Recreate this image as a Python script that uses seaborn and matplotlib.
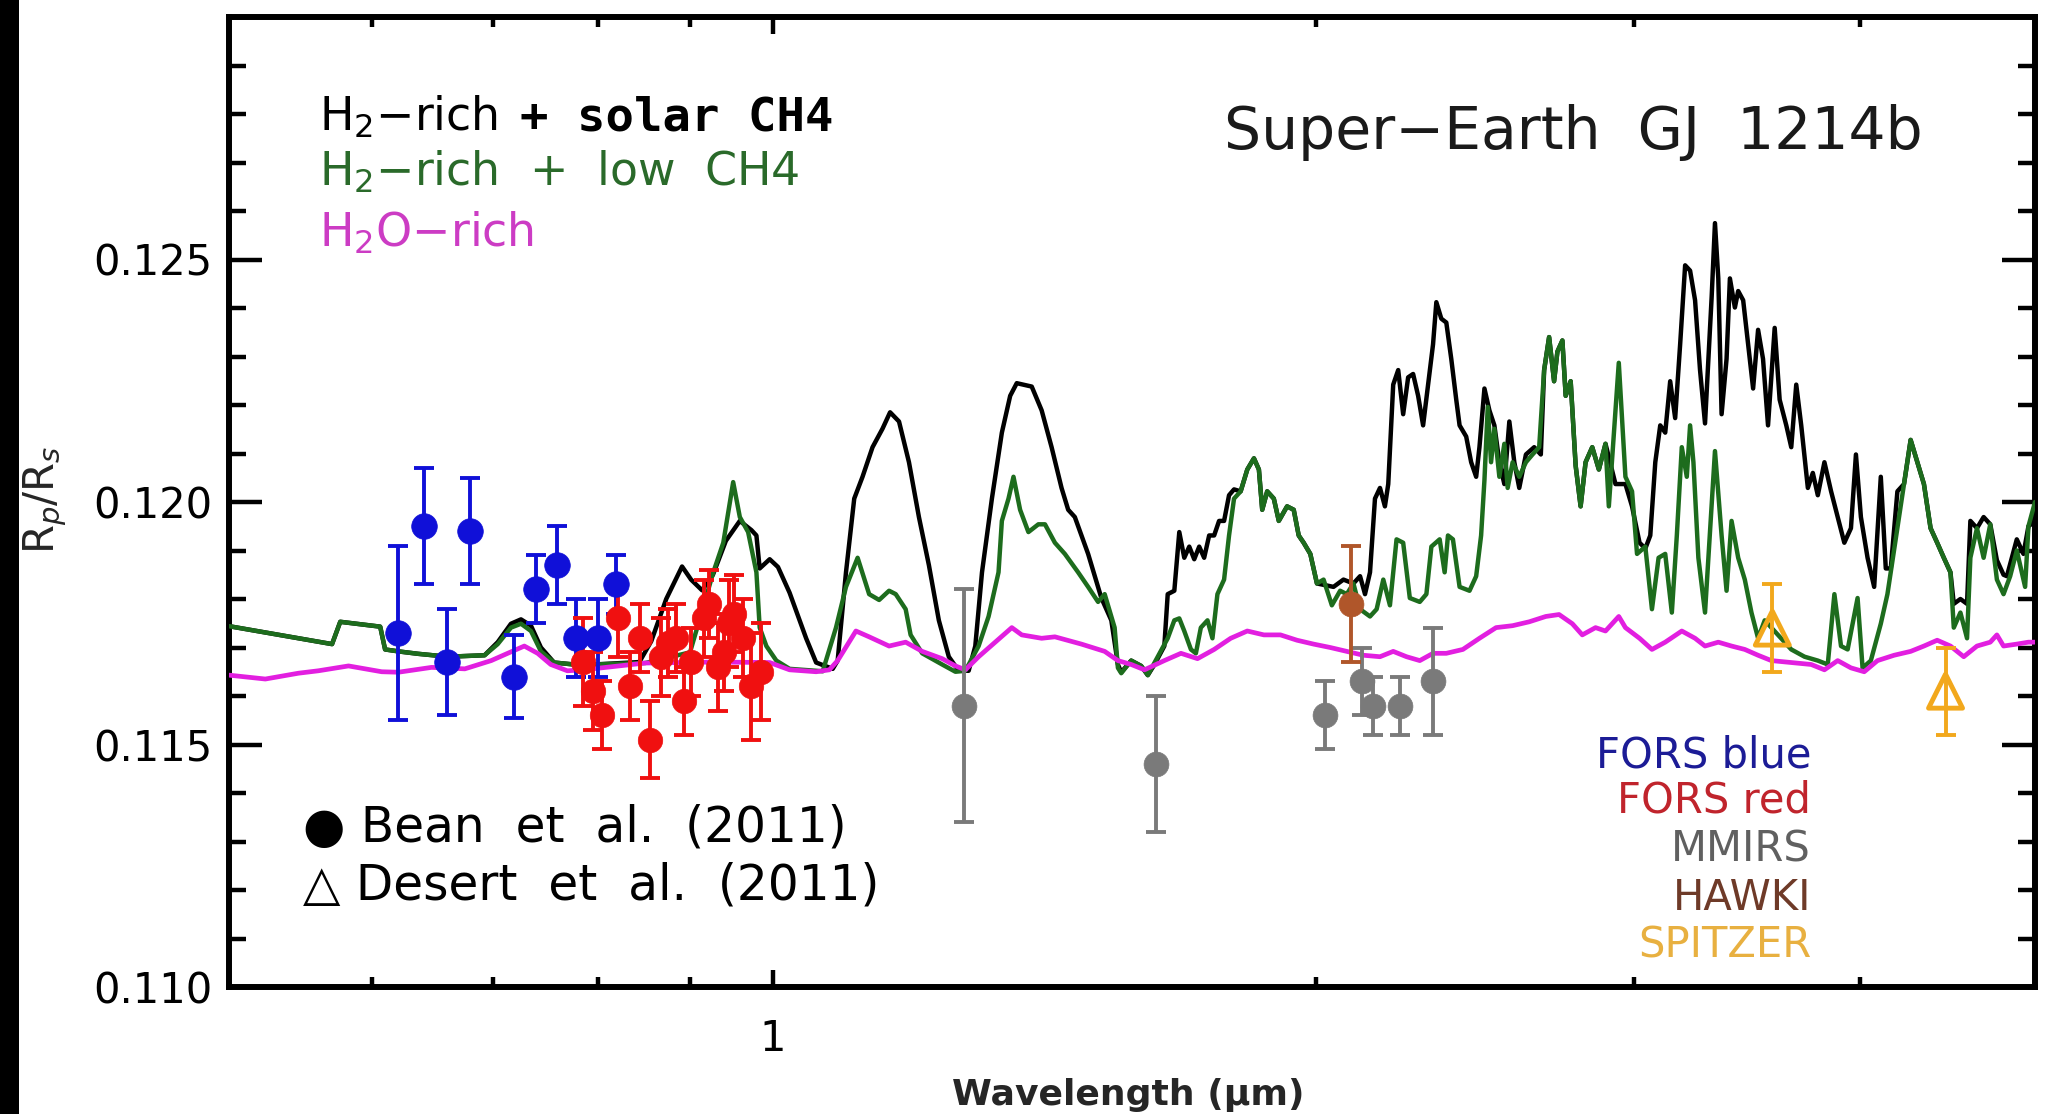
import matplotlib
matplotlib.use("Agg")
import matplotlib.pyplot as plt
import seaborn as sns
from matplotlib.ticker import FixedLocator, NullFormatter, FormatStrFormatter, MultipleLocator
from matplotlib.patches import Rectangle

# ---------------- model spectra (wavelength in micron, Rp/Rs) ----------------
wl_solar = [0.500, 0.5702, 0.5762, 0.6063, 0.6101, 0.6205, 0.6363, 0.6609, 0.6926, 0.7043,
            0.7163, 0.7255, 0.7348, 0.7442, 0.7568, 0.7760, 0.7964, 0.8437, 0.8566, 0.8731,
            0.8909, 0.9012, 0.9139, 0.9267, 0.9421, 0.9590, 0.9733, 0.9795, 0.9836, 0.9962,
            1.0068, 1.0218, 1.0436, 1.0570, 1.0796, 1.0864, 1.0980, 1.1096, 1.1214, 1.1358,
            1.1503, 1.1615, 1.1748, 1.1898, 1.2050, 1.2204, 1.2360, 1.2518, 1.2677, 1.2839,
            1.2948, 1.3059, 1.3225, 1.3394, 1.3537, 1.3651, 1.3914, 1.4091, 1.4271, 1.4453,
            1.4576, 1.4700, 1.4951, 1.5206, 1.5400, 1.5530, 1.5596, 1.5795, 1.5997, 1.6133,
            1.6272, 1.6477, 1.6548, 1.6688, 1.6794, 1.6901, 1.7009, 1.7117, 1.7226, 1.7335,
            1.7446, 1.7557, 1.7668, 1.7781, 1.7894, 1.8008, 1.8161, 1.8315, 1.8471, 1.8588,
            1.8667, 1.8786, 1.8945, 1.9066, 1.9268, 1.9432, 1.9556, 1.9680, 1.9847, 2.0016,
            2.0443, 2.0704, 2.0969, 2.1147, 2.1281, 2.1417, 2.1553, 2.1691, 2.1828, 2.1921,
            2.2060, 2.2201, 2.2342, 2.2484, 2.2627, 2.2772, 2.2917, 2.3062, 2.3209, 2.3307,
            2.3455, 2.3605, 2.3755, 2.3906, 2.4008, 2.4211, 2.4365, 2.4521, 2.4624, 2.4781,
            2.4938, 2.5097, 2.5257, 2.5418, 2.5580, 2.5743, 2.5906, 2.6127, 2.6404, 2.6628,
            2.6741, 2.6911, 2.7082, 2.7197, 2.7370, 2.7486, 2.7661, 2.7837, 2.8014, 2.8192,
            2.8432, 2.8673, 2.8917, 2.9287, 2.9661, 2.9912, 3.0200, 3.0423, 3.0616, 3.0812,
            3.1007, 3.1205, 3.1403, 3.1603, 3.1804, 3.2007, 3.2210, 3.2415, 3.2621, 3.2829,
            3.3108, 3.3248, 3.3389, 3.3530, 3.3743, 3.3887, 3.4103, 3.4247, 3.4465, 3.4684,
            3.4905, 3.5127, 3.5349, 3.5575, 3.5878, 3.6106, 3.6413, 3.6644, 3.6878, 3.7113,
            3.7428, 3.7666, 3.7906, 3.8227, 3.8553, 3.8880, 3.9209, 3.9542, 3.9794, 4.0047,
            4.0388, 4.0730, 4.1076, 4.1338, 4.1601, 4.1955, 4.2311, 4.2669, 4.3033, 4.3398,
            4.3767, 4.4138, 4.4513, 4.4891, 4.5082, 4.5464, 4.5850, 4.6045, 4.6435, 4.6830,
            4.7228, 4.7629, 4.8034, 4.8240, 4.8853, 4.9268, 4.9584, 5.000]
rp_solar = [0.11744, 0.11707, 0.11753, 0.11743, 0.11696, 0.11692, 0.11687, 0.11681, 0.11684, 0.11711,
            0.11749, 0.11758, 0.11745, 0.11700, 0.11669, 0.11665, 0.11665, 0.11670, 0.11713, 0.11800,
            0.11867, 0.11840, 0.11818, 0.11850, 0.11920, 0.11961, 0.11942, 0.11931, 0.11863, 0.11882,
            0.11866, 0.11813, 0.11719, 0.11669, 0.11656, 0.11673, 0.11855, 0.12007, 0.12052, 0.12113,
            0.12151, 0.12185, 0.12166, 0.12082, 0.11969, 0.11870, 0.11756, 0.11681, 0.11652, 0.11652,
            0.11703, 0.11855, 0.12007, 0.12143, 0.12219, 0.12245, 0.12238, 0.12189, 0.12113, 0.12029,
            0.11984, 0.11969, 0.11893, 0.11802, 0.11756, 0.11665, 0.11649, 0.11673, 0.11662, 0.11643,
            0.11665, 0.11703, 0.11810, 0.11817, 0.11938, 0.11885, 0.11908, 0.11882, 0.11908, 0.11885,
            0.11931, 0.11931, 0.11961, 0.11961, 0.12014, 0.12026, 0.12022, 0.12067, 0.12090, 0.12067,
            0.11984, 0.12022, 0.12007, 0.11961, 0.11991, 0.11984, 0.11931, 0.11916, 0.11893, 0.11832,
            0.11825, 0.11840, 0.11832, 0.11847, 0.11810, 0.11855, 0.12007, 0.12029, 0.11991, 0.12037,
            0.12242, 0.12272, 0.12181, 0.12257, 0.12264, 0.12219, 0.12158, 0.12242, 0.12325, 0.12412,
            0.12378, 0.12370, 0.12295, 0.12211, 0.12158, 0.12135, 0.12082, 0.12052, 0.12113, 0.12234,
            0.12189, 0.12158, 0.12082, 0.12037, 0.12166, 0.12082, 0.12029, 0.12098, 0.12113, 0.12098,
            0.12272, 0.12340, 0.12249, 0.12310, 0.12333, 0.12219, 0.12249, 0.12075, 0.11991, 0.12082,
            0.12113, 0.12067, 0.12120, 0.12037, 0.12037, 0.11991, 0.11916, 0.11904, 0.11931, 0.12082,
            0.12158, 0.12143, 0.12249, 0.12173, 0.12325, 0.12488, 0.12477, 0.12416, 0.12272, 0.12162,
            0.12423, 0.12575, 0.12461, 0.12181, 0.12295, 0.12461, 0.12401, 0.12435, 0.12416, 0.12325,
            0.12234, 0.12355, 0.12295, 0.12158, 0.12359, 0.12211, 0.12158, 0.12113, 0.12242, 0.12158,
            0.12029, 0.12060, 0.12014, 0.12082, 0.12022, 0.11969, 0.11916, 0.11946, 0.12098, 0.11969,
            0.11885, 0.11825, 0.12052, 0.11863, 0.11863, 0.12022, 0.12037, 0.12128, 0.12082, 0.12037,
            0.11946, 0.11916, 0.11885, 0.11855, 0.11790, 0.11800, 0.11790, 0.11961, 0.11946, 0.11969,
            0.11954, 0.11880, 0.11850, 0.11847, 0.11923, 0.11893, 0.11950, 0.11960]

wl_low = [0.500, 0.5702, 0.5762, 0.6063, 0.6101, 0.6205, 0.6363, 0.6609, 0.6926, 0.7043,
          0.7163, 0.7255, 0.7348, 0.7442, 0.7568, 0.7760, 0.7964, 0.8500, 0.9000, 0.9271,
          0.9390, 0.9509, 0.9590, 0.9692, 0.9795, 0.9836, 0.9920, 1.0047, 1.0218, 1.0659,
          1.0841, 1.0980, 1.1144, 1.1309, 1.1454, 1.1600, 1.1699, 1.1848, 1.1923, 1.2101,
          1.2412, 1.2624, 1.2785, 1.3003, 1.3169, 1.3337, 1.3394, 1.3508, 1.3594, 1.3709,
          1.3855, 1.4032, 1.4151, 1.4331, 1.4514, 1.4762, 1.4951, 1.5142, 1.5270, 1.5465,
          1.5530, 1.5596, 1.5795, 1.5997, 1.6133, 1.6339, 1.6548, 1.6688, 1.6794, 1.6901,
          1.7045, 1.7153, 1.7262, 1.7409, 1.7519, 1.7631, 1.7781, 1.7894, 1.8008, 1.8161,
          1.8315, 1.8471, 1.8588, 1.8667, 1.8786, 1.8945, 1.9066, 1.9268, 1.9432, 1.9556,
          1.9680, 1.9847, 2.0016, 2.0186, 2.0400, 2.0617, 2.0792, 2.0969, 2.1147, 2.1417,
          2.1599, 2.1783, 2.1968, 2.2154, 2.2342, 2.2532, 2.2820, 2.3013, 2.3160, 2.3406,
          2.3555, 2.3655, 2.3805, 2.4008, 2.4314, 2.4521, 2.4676, 2.4781, 2.4886, 2.4991,
          2.5097, 2.5257, 2.5418, 2.5526, 2.5688, 2.5906, 2.6127, 2.6348, 2.6572, 2.6741,
          2.6911, 2.7082, 2.7197, 2.7370, 2.7486, 2.7661, 2.7837, 2.8014, 2.8192, 2.8432,
          2.8673, 2.8917, 2.9040, 2.9411, 2.9661, 2.9912, 3.0103, 3.0423, 3.0681, 3.0942,
          3.1205, 3.1469, 3.1670, 3.1871, 3.2075, 3.2210, 3.2347, 3.2552, 3.2829, 3.3248,
          3.3530, 3.3743, 3.3959, 3.4247, 3.4537, 3.4831, 3.5127, 3.5425, 3.6030, 3.6644,
          3.7270, 3.7906, 3.8390, 3.8716, 3.9044, 3.9376, 3.9878, 4.0132, 4.0558, 4.1076,
          4.1425, 4.1955, 4.2311, 4.2669, 4.3033, 4.3398, 4.3767, 4.4138, 4.4513, 4.4891,
          4.5082, 4.5464, 4.5850, 4.6045, 4.6435, 4.6830, 4.7228, 4.7629, 4.8034, 4.8442,
          4.8853, 4.9374, 4.9584, 5.000]
rp_low = [0.11744, 0.11707, 0.11753, 0.11743, 0.11696, 0.11692, 0.11687, 0.11681, 0.11684, 0.11707,
          0.11741, 0.11749, 0.11734, 0.11692, 0.11669, 0.11665, 0.11665, 0.11668, 0.11690, 0.11855,
          0.11916, 0.12041, 0.11969, 0.11938, 0.11855, 0.11741, 0.11703, 0.11673, 0.11656, 0.11651,
          0.11741, 0.11825, 0.11885, 0.11810, 0.11798, 0.11817, 0.11810, 0.11779, 0.11726, 0.11688,
          0.11665, 0.11650, 0.11652, 0.11703, 0.11764, 0.11855, 0.11961, 0.12007, 0.12052, 0.11984,
          0.11938, 0.11954, 0.11954, 0.11916, 0.11893, 0.11855, 0.11825, 0.11794, 0.11810, 0.11741,
          0.11658, 0.11647, 0.11673, 0.11662, 0.11643, 0.11681, 0.11719, 0.11756, 0.11760, 0.11734,
          0.11696, 0.11688, 0.11741, 0.11756, 0.11719, 0.11810, 0.11840, 0.11931, 0.12007, 0.12022,
          0.12067, 0.12090, 0.12067, 0.11984, 0.12022, 0.12007, 0.11961, 0.11991, 0.11984, 0.11931,
          0.11916, 0.11893, 0.11832, 0.11840, 0.11787, 0.11817, 0.11810, 0.11832, 0.11779, 0.11764,
          0.11779, 0.11840, 0.11787, 0.11923, 0.11916, 0.11802, 0.11794, 0.11810, 0.11908, 0.11923,
          0.11855, 0.11931, 0.11923, 0.11825, 0.11817, 0.11847, 0.11931, 0.12045, 0.12196, 0.12082,
          0.12151, 0.12052, 0.12120, 0.12029, 0.12082, 0.12052, 0.12082, 0.12098, 0.12113, 0.12272,
          0.12340, 0.12249, 0.12310, 0.12333, 0.12219, 0.12249, 0.12075, 0.11991, 0.12082, 0.12113,
          0.12067, 0.12120, 0.11991, 0.12287, 0.12052, 0.12022, 0.11893, 0.11908, 0.11779, 0.11885,
          0.11893, 0.11772, 0.11931, 0.12113, 0.12052, 0.12158, 0.12082, 0.11885, 0.11772, 0.12105,
          0.11931, 0.11817, 0.11961, 0.11885, 0.11840, 0.11772, 0.11719, 0.11756, 0.11726, 0.11696,
          0.11681, 0.11673, 0.11665, 0.11810, 0.11703, 0.11696, 0.11802, 0.11658, 0.11673, 0.11749,
          0.11810, 0.11946, 0.12037, 0.12128, 0.12082, 0.12037, 0.11946, 0.11916, 0.11885, 0.11855,
          0.11741, 0.11772, 0.11719, 0.11885, 0.11946, 0.11885, 0.11954, 0.11840, 0.11810, 0.11847,
          0.11900, 0.11825, 0.11950, 0.12000]

wl_water = [0.500, 0.5237, 0.5463, 0.5604, 0.5823, 0.6075, 0.6205, 0.6473, 0.6754, 0.6985,
            0.7133, 0.7286, 0.7411, 0.7536, 0.7697, 0.7860, 0.8500, 0.9300, 0.9962, 1.0218,
            1.0570, 1.0750, 1.0864, 1.1120, 1.1309, 1.1600, 1.1848, 1.2101, 1.2412, 1.2624,
            1.2785, 1.3003, 1.3281, 1.3565, 1.3738, 1.4091, 1.4331, 1.4824, 1.5270, 1.5530,
            1.5795, 1.6065, 1.6477, 1.6830, 1.7189, 1.7557, 1.7932, 1.8315, 1.8707, 1.9106,
            1.9514, 1.9931, 2.0357, 2.0792, 2.1237, 2.1691, 2.2060, 2.2437, 2.2820, 2.3209,
            2.3605, 2.4109, 2.4624, 2.5151, 2.5688, 2.6237, 2.6798, 2.7255, 2.7720, 2.8074,
            2.8552, 2.8917, 2.9411, 2.9661, 3.0200, 3.0681, 3.1205, 3.1871, 3.2415, 3.2829,
            3.3389, 3.3959, 3.4537, 3.5127, 3.5727, 3.6644, 3.7587, 3.8227, 3.8880, 3.9542,
            4.0217, 4.0904, 4.1777, 4.2669, 4.3398, 4.4138, 4.4891, 4.5657, 4.6435, 4.7228,
            4.7629, 4.8034, 4.8853, 4.9584, 5.000]
rp_water = [0.11643, 0.11635, 0.11647, 0.11652, 0.11662, 0.11650, 0.11649, 0.11659, 0.11656, 0.11673,
            0.11688, 0.11703, 0.11688, 0.11665, 0.11652, 0.11654, 0.11668, 0.11670, 0.11669, 0.11654,
            0.11650, 0.11654, 0.11673, 0.11734, 0.11722, 0.11703, 0.11711, 0.11692, 0.11677, 0.11662,
            0.11654, 0.11681, 0.11711, 0.11741, 0.11726, 0.11719, 0.11722, 0.11707, 0.11692, 0.11673,
            0.11665, 0.11654, 0.11673, 0.11688, 0.11677, 0.11696, 0.11719, 0.11734, 0.11726, 0.11726,
            0.11715, 0.11707, 0.11700, 0.11692, 0.11684, 0.11681, 0.11692, 0.11681, 0.11673, 0.11688,
            0.11688, 0.11696, 0.11719, 0.11741, 0.11745, 0.11753, 0.11764, 0.11768, 0.11749, 0.11726,
            0.11741, 0.11734, 0.11764, 0.11741, 0.11719, 0.11696, 0.11711, 0.11734, 0.11719, 0.11703,
            0.11711, 0.11703, 0.11696, 0.11684, 0.11673, 0.11669, 0.11665, 0.11654, 0.11673, 0.11658,
            0.11650, 0.11673, 0.11684, 0.11692, 0.11703, 0.11715, 0.11703, 0.11681, 0.11703, 0.11711,
            0.11726, 0.11703, 0.11707, 0.11711, 0.11711]

# ---------------- observations ----------------
wl_fors_blue = [0.6205, 0.6409, 0.6605, 0.6800, 0.7193, 0.7400, 0.7600, 0.7779, 0.7999, 0.8194]
rp_fors_blue = [0.1173, 0.1195, 0.1167, 0.1194, 0.1164, 0.1182, 0.1187, 0.1172, 0.1172, 0.1183]
er_fors_blue = [0.0018, 0.0012, 0.0011, 0.0011, 0.00085, 0.0007, 0.0008, 0.0008, 0.0008, 0.0006]

wl_fors_red = [0.7855, 0.7955, 0.8040, 0.8211, 0.8334, 0.8440, 0.8548, 0.8676, 0.8749, 0.8842,
               0.8936, 0.9012, 0.9166, 0.9224, 0.9322, 0.9401, 0.9461, 0.9521, 0.9623, 0.9725,
               0.9849]
rp_fors_red = [0.1167, 0.1161, 0.1156, 0.1176, 0.1162, 0.1172, 0.1151, 0.1168, 0.1171, 0.1172,
               0.1159, 0.1167, 0.1176, 0.1179, 0.1166, 0.1169, 0.1175, 0.1177, 0.1172, 0.1162,
               0.1165]
er_fors_red = [0.0009, 0.0008, 0.0007, 0.0008, 0.0007, 0.0007, 0.0008, 0.0008, 0.0007, 0.0007,
               0.0007, 0.0007, 0.0008, 0.0007, 0.0009, 0.0008, 0.0009, 0.0008, 0.0008, 0.0011,
               0.0010]

wl_mmirs = [1.2758, 1.6304, 2.0229, 2.1192, 2.1508, 2.2249, 2.3211]
rp_mmirs = [0.1158, 0.1146, 0.1156, 0.1163, 0.1158, 0.1158, 0.1163]
er_mmirs = [0.0024, 0.0014, 0.0007, 0.0007, 0.0006, 0.0006, 0.0011]

wl_hawki = [2.09]
rp_hawki = [0.1179]
er_hawki = [0.0012]

wl_spitzer = [3.577, 4.461]
rp_spitzer = [0.1174, 0.1161]
er_spitzer = [0.0009, 0.0009]

x_ticks_major = [1]
x_ticks_minor = [0.6, 0.7, 0.8, 0.9, 2, 3, 4]
y_ticks_major = [0.110, 0.115, 0.120, 0.125]

instrument_labels = ["FORS blue", "FORS red", "MMIRS", "HAWKI", "SPITZER"]
instrument_colors = ["#1c1c96", "#c0242c", "#606060", "#6e3a28", "#e8b040"]

# ---------------- styling ----------------
C_BLUE = "#1010d8"
C_RED = "#f01010"
C_GRAY = "#7a7a7a"
C_BROWN = "#b0562a"
C_ORANGE = "#f2a81c"
C_GREEN = "#1d6c1d"
C_MAGENTA = "#e21fe0"

sns.set_theme(style="ticks")
plt.rcParams["font.family"] = ["DejaVu Sans"]
plt.rcParams["mathtext.fontset"] = "dejavusans"

W, H = 2053, 1114
fig = plt.figure(figsize=(W / 100, H / 100), dpi=100)
fig.patch.set_facecolor("white")
fig.add_artist(Rectangle((0, 0), 19 / W, 1, transform=fig.transFigure,
                         facecolor="black", edgecolor="none"))

ax = fig.add_axes([229 / W, 127 / H, 1806 / W, 970 / H])
ax.set_facecolor("white")
ax.set_xscale("log")

# model curves
sns.lineplot(x=wl_solar, y=rp_solar, ax=ax, color="black", lw=3.2,
             sort=False, estimator=None, zorder=2)
sns.lineplot(x=wl_low, y=rp_low, ax=ax, color=C_GREEN, lw=3.2,
             sort=False, estimator=None, zorder=3)
sns.lineplot(x=wl_water, y=rp_water, ax=ax, color=C_MAGENTA, lw=3.4,
             sort=False, estimator=None, zorder=4)


def draw_points(wl, rp, er, color, marker="o", size=240, open_marker=False):
    ax.errorbar(wl, rp, yerr=er, fmt="none", ecolor=color, elinewidth=2.8,
                capsize=7, capthick=2.8, zorder=5)
    if open_marker:
        sns.scatterplot(x=wl, y=rp, ax=ax, marker=marker, s=size, facecolors="none",
                        edgecolor=color, linewidth=3.5, zorder=6)
    else:
        sns.scatterplot(x=wl, y=rp, ax=ax, marker=marker, s=size, color=color,
                        edgecolor=color, linewidth=0.5, zorder=6)


draw_points(wl_fors_blue, rp_fors_blue, er_fors_blue, C_BLUE, size=340)
draw_points(wl_fors_red, rp_fors_red, er_fors_red, C_RED, size=310)
draw_points(wl_mmirs, rp_mmirs, er_mmirs, C_GRAY, size=320)
draw_points(wl_hawki, rp_hawki, er_hawki, C_BROWN, size=320)
draw_points(wl_spitzer, rp_spitzer, er_spitzer, C_ORANGE, marker="^", size=600,
            open_marker=True)

# axes
ax.set_xlim(0.5, 5.0)
ax.set_ylim(0.110, 0.130)
ax.xaxis.set_major_locator(FixedLocator(x_ticks_major))
ax.xaxis.set_minor_locator(FixedLocator(x_ticks_minor))
ax.set_xticklabels(["1"])
ax.xaxis.set_minor_formatter(NullFormatter())
ax.yaxis.set_major_locator(FixedLocator(y_ticks_major))
ax.yaxis.set_minor_locator(MultipleLocator(0.001))
ax.yaxis.set_major_formatter(FormatStrFormatter("%.3f"))

for sp in ax.spines.values():
    sp.set_visible(True)
    sp.set_linewidth(4.3)
    sp.set_color("black")

ax.tick_params(which="both", direction="in", top=True, right=True, colors="black",
               width=3.2)
ax.tick_params(axis="y", which="major", length=24, labelsize=30, pad=12)
ax.tick_params(axis="y", which="minor", length=12)
ax.tick_params(axis="x", which="major", length=12, labelsize=30, pad=22)
ax.tick_params(axis="x", which="minor", length=7)
ax.set_xlabel("")
ax.set_ylabel("")

fig.text(45 / W, 1 - 500 / H, r"R$_p$/R$_s$", rotation=90, ha="center", va="center",
         fontsize=30)
fig.text(1128 / W, 1 - 1105 / H, "Wavelength (μm)", ha="center", va="baseline",
         fontsize=26, fontweight="bold")

# model labels
ax.text(0.0498, 0.8835, "H$_2$\u2212rich", transform=ax.transAxes, fontsize=33,
        color="black", va="baseline")
ax.text(0.1611, 0.8835, "+ solar CH4", transform=ax.transAxes, fontsize=34,
        color="black", va="baseline", family="DejaVu Sans Mono", fontweight="bold")
ax.text(0.0498, 0.8258, "H$_2$\u2212rich  +  low  CH4", transform=ax.transAxes,
        fontsize=33, color="#2a6a2a", va="baseline")
ax.text(0.0498, 0.7639, "H$_2$O\u2212rich", transform=ax.transAxes, fontsize=33,
        color="#cc3cc4", va="baseline")

ax.text(0.938, 0.864, "Super\u2212Earth  GJ  1214b", transform=ax.transAxes,
        fontsize=42, color="#1a1a1a", ha="right", va="baseline")

ax.text(0.041, 0.1495, "\u25cf Bean  et  al.  (2011)", transform=ax.transAxes,
        fontsize=35, color="black", va="baseline")
ax.text(0.041, 0.0897, "\u25b3 Desert  et  al.  (2011)", transform=ax.transAxes,
        fontsize=35, color="black", va="baseline")

label_y = [0.2268, 0.1794, 0.1289, 0.0794, 0.0309]
for txt, col, yy in zip(instrument_labels, instrument_colors, label_y):
    ax.text(0.876, yy, txt, transform=ax.transAxes, fontsize=30, color=col,
            ha="right", va="baseline")

fig.savefig("out.png", dpi=100, facecolor="white")
